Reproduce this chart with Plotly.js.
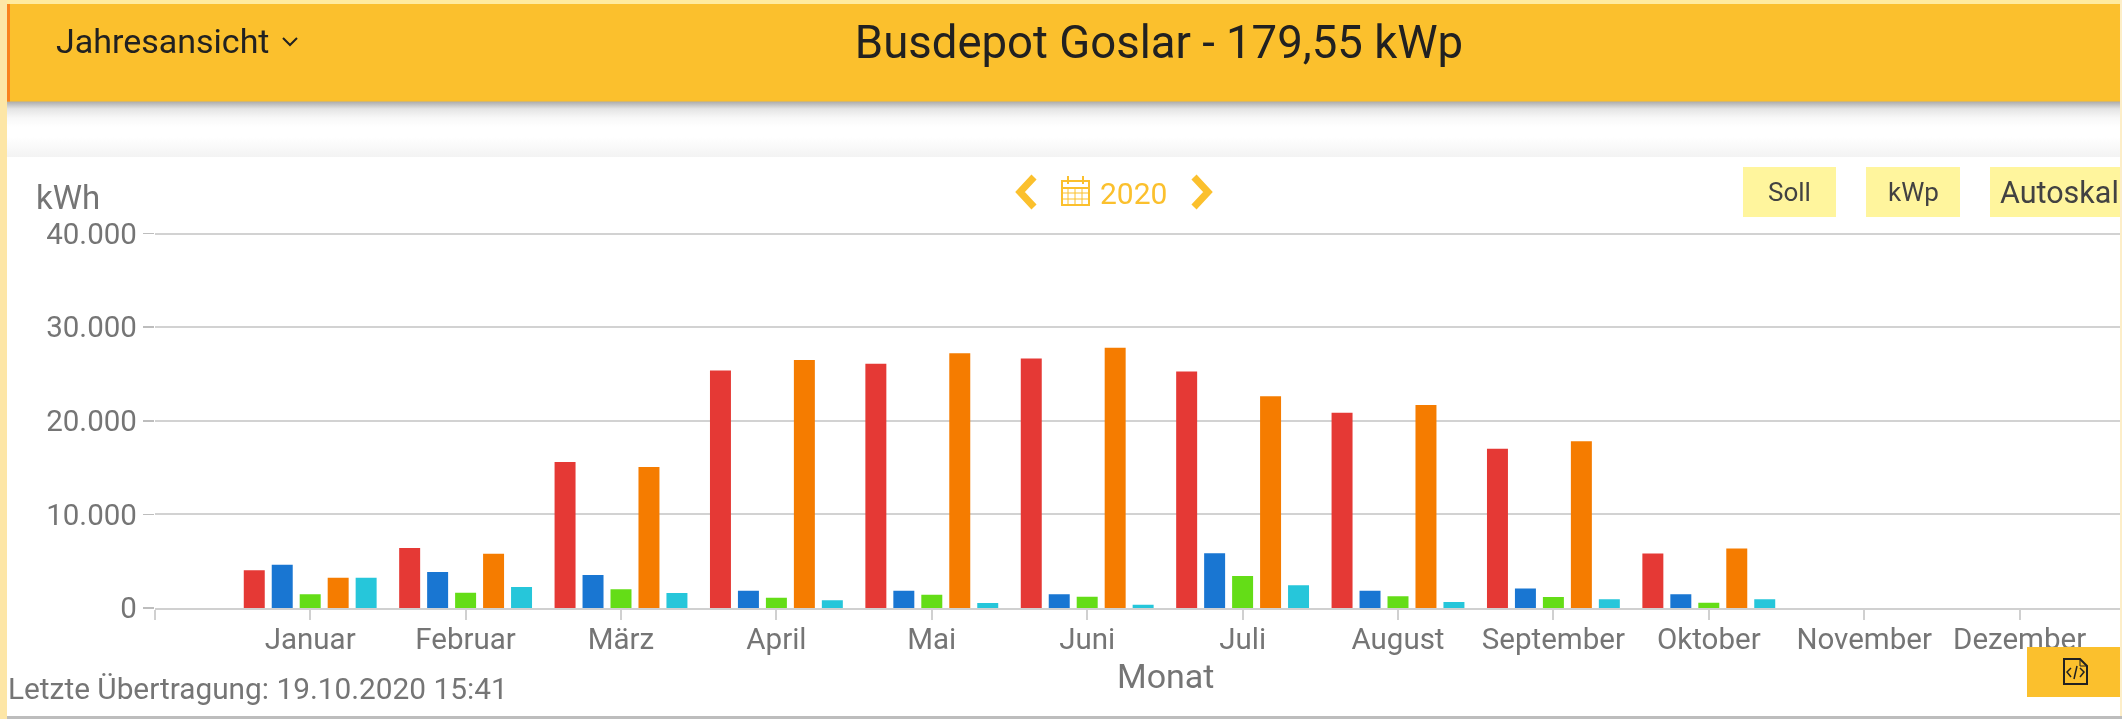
<!DOCTYPE html>
<html lang="de">
<head>
<meta charset="utf-8">
<title>Busdepot Goslar</title>
<script src="https://cdn.plot.ly/plotly-3.0.1.min.js"></script>
<style>
html,body{margin:0;padding:0;width:2122px;height:719px;overflow:hidden;background:#fff}
.bg{position:absolute}
#chart{position:absolute;left:0;top:0;width:2122px;height:719px;filter:blur(0.5px)}
</style>
</head>
<body>
<div class="bg" style="left:0;top:101px;width:2122px;height:26px;background:linear-gradient(#a8a8a8,#e4e4e4 30%,#f8f8f8 65%,#fff)"></div>
<div class="bg" style="left:0;top:137px;width:2122px;height:20px;background:linear-gradient(#fff,#f3f3f3)"></div>
<div id="chart"></div>
<script>
var months = ["", "Januar", "Februar", "März", "April", "Mai", "Juni", "Juli", "August", "September", "Oktober", "November", "Dezember"];
var monthPos = [0, 1, 2, 3, 4, 5, 6, 7, 8, 9, 10, 11, 12];
var barPos = [1, 2, 3, 4, 5, 6, 7, 8, 9, 10, 11, 12];
var redValues = [4020, 6400, 15590, 25370, 26090, 26650, 25270, 20850, 17000, 5820, null, null];
var blueValues = [4630, 3840, 3520, 1850, 1850, 1460, 5840, 1850, 2070, 1460, null, null];
var greenValues = [1460, 1640, 1990, 1100, 1420, 1210, 3420, 1250, 1180, 570, null, null];
var orangeValues = [3240, 5800, 15050, 26480, 27220, 27790, 22630, 21670, 17820, 6360, null, null];
var cyanValues = [3240, 2240, 1600, 820, 530, 350, 2420, 640, 930, 930, null, null];
var seriesColors = ["#e53935", "#1976d2", "#64dd17", "#f57c00", "#26c6da"];
var seriesValues = [redValues, blueValues, greenValues, orangeValues, cyanValues];

var W = 2122, H = 719;
function px(x){return x / W;}
function py(y){return 1 - y / H;}
function rect(x0, y0, x1, y1, fill){
  return {type:"rect", xref:"paper", yref:"paper", x0:px(x0), x1:px(x1), y0:py(y0), y1:py(y1),
          fillcolor:fill, line:{width:0}, layer:"above"};
}
function path(points, stroke, width, fill, close){
  var d = points.map(function(p, i){return (i ? "L" : "M") + px(p[0]) + "," + py(p[1]);}).join(" ") + (close ? " Z" : "");
  return {type:"path", xref:"paper", yref:"paper", path:d, layer:"above",
          line:{color:stroke, width:width}, fillcolor:fill || "rgba(0,0,0,0)"};
}
function note(text, x, y, size, color, anchor){
  return {text:text, xref:"paper", yref:"paper", x:px(x), y:py(y), xanchor:anchor || "left", yanchor:"middle",
          showarrow:false, font:{family:"Roboto, sans-serif", size:size, color:color}};
}
var amber = "#fbc02d", pale = "#fff59d", ink = "#212121", grey = "#757575";
var shapes = [
  rect(0, 0, W, 4, "#ffeb9e"),
  rect(0, 0, 7, H, "#fde6a6"),
  rect(2120, 0, W, H, "#fdeec8"),
  rect(7, 4, 2120, 101.5, amber),
  rect(7, 4, 10, 101.5, "#f9821e"),
  rect(7, 716, W, H, "#bdbdbd"),
  rect(1743, 167, 1836, 217, pale),
  rect(1866, 167, 1960, 217, pale),
  rect(1990, 167, 2120, 217, pale),
  rect(2027, 647, 2120, 697, amber),
  path([[283,38],[290,45],[297,38]], ink, 2),
  path([[1034,177],[1020,192],[1034,207]], amber, 7),
  path([[1194,177],[1208,192],[1194,207]], amber, 7),
  path([[1062,181],[1089,181],[1089,205],[1062,205]], amber, 2, null, true),
  path([[1062,188],[1089,188]], amber, 2),
  path([[1062,193],[1089,193]], amber, 1),
  path([[1062,199],[1089,199]], amber, 1),
  path([[1068,188],[1068,205]], amber, 1),
  path([[1075,188],[1075,205]], amber, 1),
  path([[1082,188],[1082,205]], amber, 1),
  path([[1068,176],[1068,184]], amber, 2),
  path([[1083,176],[1083,184]], amber, 2),
  path([[2064,659],[2080,659],[2087,666],[2087,684],[2064,684]], ink, 2, null, true),
  path([[2080,659],[2080,666],[2087,666]], ink, 1),
  path([[2071,668],[2067,672],[2071,677]], ink, 1.5),
  path([[2080,668],[2084,672],[2080,677]], ink, 1.5),
  path([[2077,666],[2074,679]], ink, 1.5)
];
var annotations = [
  note("Jahresansicht", 54, 41, 34, ink),
  note("kWh", 34, 197, 33, grey),
  note("2020", 1098, 193, 30, amber),
  note("Soll", 1789, 192, 26, "#424242", "center"),
  note("kWp", 1913, 192, 26, "#424242", "center"),
  note("Autoskal", 1998, 192, 30.5, "#424242"),
  note("Letzte Übertragung: 19.10.2020 15:41", 6, 688, 29.8, grey),
  note("Monat", 1165, 676, 34, grey, "center")
];
var traces = seriesValues.map(function(vals, i){
  return {type:"bar", x:barPos, y:vals, marker:{color:seriesColors[i], line:{width:0}}, showlegend:false, hoverinfo:"y"};
});
var layout = {
  width:W, height:H,
  margin:{l:0, r:0, t:0, b:0},
  paper_bgcolor:"rgba(0,0,0,0)", plot_bgcolor:"rgba(0,0,0,0)",
  separators:",.",
  barmode:"group", bargap:0.1, bargroupgap:0.25,
  showlegend:false,
  title:{text:"Busdepot Goslar - 179,55 kWp", x:px(1159), xanchor:"center", y:py(42), yanchor:"middle",
         font:{family:"Roboto, sans-serif", size:45.5, color:ink}},
  xaxis:{domain:[px(154.8), px(2120)], range:[0, (2120 - 154.8) / 155.4], tickmode:"array", tickvals:monthPos, ticktext:months,
         ticks:"outside", ticklen:10, tickwidth:2, tickcolor:"#d0d0d0", showline:true, linecolor:"#d0d0d0", linewidth:2,
         showgrid:false, zeroline:false, fixedrange:true, ticklabelstandoff:-6,
         tickfont:{family:"Roboto, sans-serif", size:29.5, color:grey}},
  yaxis:{domain:[py(608), py(230.7)], range:[0, 40300], tickmode:"array", tickvals:[0, 10000, 20000, 30000, 40000], tickformat:",d",
         ticks:"outside", ticklen:11, tickwidth:1.5, tickcolor:"#bdbdbd", showgrid:true, gridcolor:"#d2d2d2", gridwidth:2,
         showline:false, zeroline:false, fixedrange:true,
         tickfont:{family:"Roboto, sans-serif", size:29.5, color:grey}},
  shapes:shapes, annotations:annotations
};
Plotly.newPlot("chart", traces, layout, {displayModeBar:false, staticPlot:true});
</script>
</body>
</html>
